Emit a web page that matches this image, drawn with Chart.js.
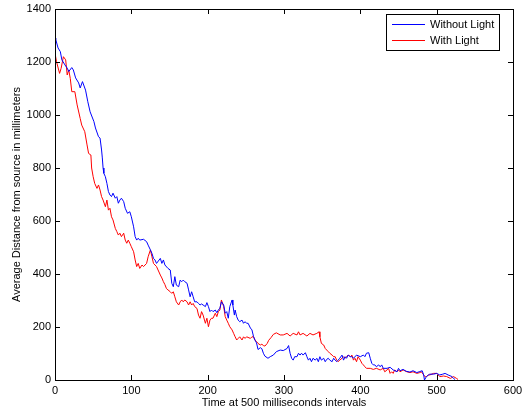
<!DOCTYPE html>
<html>
<head>
<meta charset="utf-8">
<script src="https://cdn.jsdelivr.net/npm/chart.js@4.4.1/dist/chart.umd.min.js"></script>
<style>
  html, body { margin: 0; padding: 0; background: #fff; }
  canvas { display: block; }
</style>
</head>
<body>
<canvas id="distanceChart" width="522" height="413"></canvas>
<script>
// --- Data ---
const seriesNames = ['Without Light', 'With Light'];
const seriesColors = ['#0000ff', '#ff0000'];

const xTicks = [0, 100, 200, 300, 400, 500, 600];
const yTicks = [0, 200, 400, 600, 800, 1000, 1200, 1400];

// Without Light (blue)
const timeWithout = [0, 1, 4, 7, 9, 13, 16, 18, 22, 24, 27, 31, 33, 36, 40, 43, 46, 51, 53, 57, 59, 61, 62, 63, 64, 66, 68, 70, 72, 74, 76, 79, 81, 83, 85, 87, 90, 92, 95, 98, 100, 103, 105, 107, 109, 111, 116, 120, 122, 125, 127, 129, 131, 133, 138, 140, 142, 144, 148, 151, 153, 155, 157, 159, 162, 164, 166, 168, 170, 173, 175, 177, 179, 181, 183, 186, 188, 190, 192, 194, 197, 199, 201, 203, 205, 207, 210, 212, 214, 216, 218, 221, 223, 225, 227, 229, 232, 233, 235, 236, 238, 240, 242, 245, 247, 249, 251, 253, 256, 258, 260, 262, 264, 266, 269, 271, 273, 275, 279, 282, 286, 290, 295, 299, 304, 306, 308, 310, 312, 314, 317, 319, 321, 323, 325, 328, 330, 332, 334, 336, 338, 341, 343, 345, 347, 349, 352, 354, 356, 358, 360, 363, 365, 367, 369, 371, 373, 376, 378, 380, 382, 384, 387, 389, 391, 395, 400, 404, 406, 408, 411, 413, 415, 417, 419, 421, 424, 426, 428, 430, 435, 439, 443, 448, 450, 452, 456, 460, 465, 469, 474, 478, 481, 483, 484, 486, 489, 491, 496, 500, 504, 508, 511, 515, 520, 522, 524];
const distWithout = [1290, 1285, 1253, 1239, 1208, 1189, 1177, 1164, 1179, 1170, 1140, 1121, 1102, 1126, 1094, 1050, 1012, 975, 951, 918, 913, 868, 838, 800, 780, 767, 742, 711, 698, 692, 705, 686, 692, 667, 679, 686, 673, 648, 629, 635, 616, 578, 541, 528, 535, 528, 531, 522, 509, 491, 478, 459, 453, 440, 459, 440, 453, 434, 421, 415, 365, 352, 390, 358, 352, 377, 371, 377, 371, 365, 340, 314, 333, 314, 295, 295, 289, 283, 287, 283, 277, 292, 277, 258, 264, 258, 264, 254, 264, 271, 295, 283, 252, 258, 233, 277, 302, 283, 245, 264, 239, 226, 220, 226, 214, 220, 214, 214, 196, 189, 165, 150, 140, 115, 122, 118, 101, 90, 82, 88, 94, 107, 113, 111, 119, 130, 101, 82, 75, 88, 88, 101, 94, 101, 94, 103, 88, 75, 82, 69, 82, 75, 82, 69, 88, 75, 82, 69, 78, 82, 75, 69, 82, 75, 69, 75, 82, 94, 75, 88, 82, 94, 88, 88, 82, 94, 88, 94, 88, 101, 103, 82, 63, 57, 57, 50, 57, 50, 57, 44, 44, 48, 38, 31, 44, 35, 40, 33, 30, 35, 28, 32, 35, 19, 0, 10, 19, 22, 22, 25, 19, 22, 25, 19, 13, 6, 2];

// With Light (red)
const timeWith = [0, 2, 6, 8, 11, 14, 16, 18, 20, 22, 26, 29, 33, 35, 39, 42, 44, 47, 48, 50, 52, 55, 57, 59, 61, 63, 66, 68, 70, 72, 74, 76, 79, 81, 83, 85, 87, 90, 92, 94, 96, 98, 100, 103, 105, 107, 109, 111, 114, 116, 120, 122, 125, 127, 129, 133, 138, 140, 142, 144, 146, 148, 151, 153, 155, 157, 159, 162, 164, 166, 168, 170, 173, 175, 177, 179, 181, 183, 186, 188, 190, 192, 194, 197, 199, 201, 203, 205, 207, 210, 212, 214, 216, 218, 221, 223, 225, 227, 229, 232, 234, 236, 238, 240, 242, 245, 247, 249, 251, 256, 258, 260, 262, 264, 266, 269, 271, 273, 275, 278, 280, 283, 286, 290, 295, 299, 304, 308, 312, 317, 319, 321, 325, 330, 334, 338, 343, 346, 347, 349, 352, 354, 356, 358, 360, 363, 365, 367, 369, 371, 373, 376, 378, 380, 382, 384, 387, 389, 391, 393, 395, 397, 400, 402, 404, 406, 408, 413, 417, 421, 426, 430, 432, 435, 437, 439, 441, 443, 445, 448, 450, 452, 456, 461, 465, 469, 474, 478, 480, 483, 485, 487, 489, 491, 496, 500, 502, 504, 509, 513, 518, 522, 526, 528];
const distWith = [1233, 1201, 1157, 1176, 1220, 1208, 1151, 1170, 1138, 1088, 1088, 1038, 987, 962, 937, 887, 855, 849, 800, 767, 742, 723, 736, 717, 692, 679, 654, 679, 641, 648, 616, 604, 572, 560, 547, 554, 541, 554, 528, 516, 528, 516, 503, 484, 453, 428, 440, 421, 434, 428, 440, 465, 491, 465, 440, 428, 396, 385, 371, 360, 345, 340, 333, 327, 333, 314, 295, 283, 295, 302, 295, 302, 295, 283, 295, 283, 289, 277, 270, 245, 233, 258, 245, 214, 233, 201, 226, 233, 233, 252, 239, 258, 264, 302, 277, 239, 226, 214, 201, 189, 176, 163, 151, 157, 163, 151, 163, 157, 163, 157, 163, 163, 151, 145, 138, 132, 135, 130, 128, 138, 150, 160, 172, 178, 170, 170, 176, 166, 176, 170, 182, 170, 176, 166, 176, 170, 176, 182, 163, 138, 132, 119, 113, 107, 101, 94, 88, 88, 75, 69, 75, 82, 88, 82, 88, 94, 88, 94, 75, 82, 69, 88, 75, 63, 57, 50, 44, 44, 40, 44, 38, 44, 31, 38, 44, 25, 31, 25, 38, 31, 38, 31, 38, 31, 28, 31, 25, 28, 31, 19, 12, 13, 19, 19, 25, 25, 19, 13, 15, 13, 6, 13, 6, 2];

const FONT = 'Liberation Sans, Arial, Helvetica, sans-serif';

function toPoints(xs, ys) {
    return xs.map((x, i) => ({ x: x, y: ys[i] }));
}

// MATLAB style box: full frame, inward ticks on all four sides, legend box
const matlabFrame = {
    id: 'matlabFrame',
    afterDatasetsDraw(chart) {
        const { ctx, chartArea: a, scales } = chart;
        const tickLen = 5;
        ctx.save();
        ctx.strokeStyle = '#000';
        ctx.lineWidth = 1;
        ctx.beginPath();
        xTicks.forEach(v => {
            const px = Math.round(scales.x.getPixelForValue(v)) + 0.5;
            ctx.moveTo(px, a.bottom);
            ctx.lineTo(px, a.bottom - tickLen);
            ctx.moveTo(px, a.top);
            ctx.lineTo(px, a.top + tickLen);
        });
        yTicks.forEach(v => {
            const py = Math.round(scales.y.getPixelForValue(v)) + 0.5;
            ctx.moveTo(a.left, py);
            ctx.lineTo(a.left + tickLen, py);
            ctx.moveTo(a.right, py);
            ctx.lineTo(a.right - tickLen, py);
        });
        ctx.stroke();
        ctx.strokeRect(Math.round(a.left) + 0.5, Math.round(a.top) + 0.5,
            Math.round(a.right - a.left), Math.round(a.bottom - a.top));

        // legend
        const bx = 386.5, by = 14.5, bw = 113, bh = 36;
        ctx.fillStyle = '#fff';
        ctx.fillRect(bx, by, bw, bh);
        ctx.strokeRect(bx, by, bw, bh);
        ctx.font = '11px ' + FONT;
        ctx.textBaseline = 'middle';
        chart.data.datasets.forEach((ds, i) => {
            const ly = 24.5 + i * 16;
            ctx.strokeStyle = ds.borderColor;
            ctx.beginPath();
            ctx.moveTo(392, ly);
            ctx.lineTo(425, ly);
            ctx.stroke();
            ctx.fillStyle = '#000';
            ctx.fillText(ds.label, 430, ly);
        });
        ctx.restore();
    }
};

const ctx = document.getElementById('distanceChart').getContext('2d');

new Chart(ctx, {
    type: 'line',
    data: {
        datasets: [
            {
                label: seriesNames[0],
                data: toPoints(timeWithout, distWithout),
                borderColor: seriesColors[0],
                borderWidth: 1,
                pointRadius: 0,
                tension: 0,
                fill: false
            },
            {
                label: seriesNames[1],
                data: toPoints(timeWith, distWith),
                borderColor: seriesColors[1],
                borderWidth: 1,
                pointRadius: 0,
                tension: 0,
                fill: false
            }
        ]
    },
    options: {
        responsive: false,
        animation: false,
        events: [],
        layout: { padding: { top: 9, right: 9, left: 0, bottom: 0 } },
        plugins: {
            legend: { display: false },
            tooltip: { enabled: false }
        },
        scales: {
            x: {
                type: 'linear',
                min: 0,
                max: 600,
                afterBuildTicks: s => { s.ticks = xTicks.map(v => ({ value: v })); },
                afterFit: s => {
                    s.height = 33;
                    s.paddingLeft = 0;
                    s.paddingRight = 0;
                },
                grid: { display: false, drawTicks: false },
                border: { display: false },
                ticks: {
                    color: '#000',
                    font: { family: FONT, size: 11 },
                    padding: 4,
                    maxRotation: 0,
                    callback: v => String(v)
                },
                title: {
                    display: true,
                    text: 'Time at 500 milliseconds intervals',
                    color: '#000',
                    font: { family: FONT, size: 11 },
                    padding: { top: 0, bottom: 3 }
                }
            },
            y: {
                min: 0,
                max: 1400,
                afterBuildTicks: s => { s.ticks = yTicks.map(v => ({ value: v })); },
                afterFit: s => {
                    s.width = 55;
                    s.paddingTop = 0;
                    s.paddingBottom = 0;
                },
                grid: { display: false, drawTicks: false },
                border: { display: false },
                ticks: {
                    color: '#000',
                    font: { family: FONT, size: 11 },
                    padding: 4,
                    callback: v => String(v)
                },
                title: {
                    display: true,
                    text: 'Average Distance from source in millimeters',
                    color: '#000',
                    font: { family: FONT, size: 11 },
                    padding: { top: 10, bottom: 0 }
                }
            }
        }
    },
    plugins: [matlabFrame]
});
</script>
</body>
</html>
